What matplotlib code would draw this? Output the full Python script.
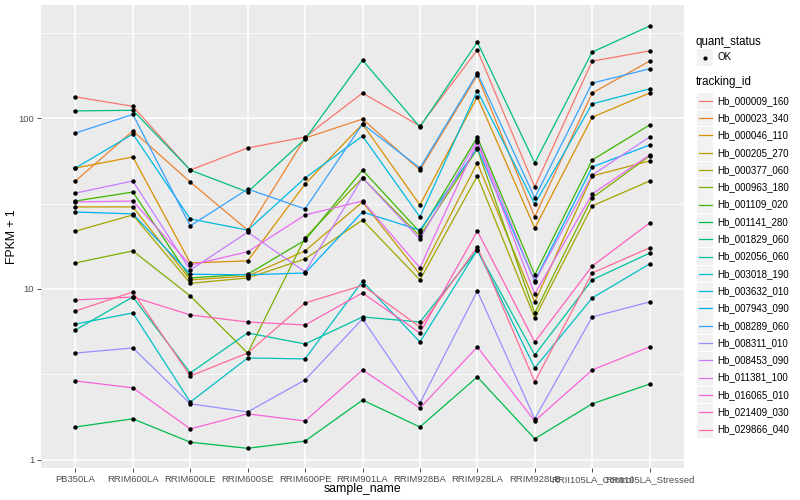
import numpy as np
import matplotlib
matplotlib.use("Agg")
import matplotlib.pyplot as plt
from matplotlib.patches import Rectangle

plt.rcParams['font.family'] = ['Liberation Sans', 'DejaVu Sans']

samples = ["PB350LA", "RRIM600LA", "RRIM600LE", "RRIM600SE", "RRIM600PE",
           "RRIM901LA", "RRIM928BA", "RRIM928LA", "RRIM928LB",
           "RRII105LA_Control", "RRII105LA_Stressed"]

tracking_ids = ["Hb_000009_160", "Hb_000023_340", "Hb_000046_110", "Hb_000205_270",
                "Hb_000377_060", "Hb_000963_180", "Hb_001109_020", "Hb_001141_280",
                "Hb_001829_060", "Hb_002056_060", "Hb_003018_190", "Hb_003632_010",
                "Hb_007943_090", "Hb_008289_060", "Hb_008311_010", "Hb_008453_090",
                "Hb_011381_100", "Hb_016065_010", "Hb_021409_030", "Hb_029866_040"]

# ggplot default hue palette, 20 levels
colors = ["#F8766D", "#EA8331", "#D89000", "#C09B00", "#A3A500", "#7CAE00",
          "#39B600", "#00BB4E", "#00BF7D", "#00C1A3", "#00BFC4", "#00BAE0",
          "#00B0F6", "#35A2FF", "#9590FF", "#C77CFF", "#E76BF3", "#FA62DB",
          "#FF62BC", "#FF6C91"]

# FPKM + 1
fpkm = {
    "Hb_000009_160": [133, 117, 49.6, 66.8, 77.4, 140, 89.8, 250, 39.5, 215, 247],
    "Hb_000023_340": [42.8, 84.0, 42.2, 22.1, 76.4, 98.6, 49.6, 178, 26.4, 140, 215],
    "Hb_000046_110": [51.0, 59.2, 14.2, 14.6, 41.1, 92.2, 31.0, 133, 22.7, 101, 140],
    "Hb_000205_270": [30.2, 30.2, 11.3, 11.9, 16.7, 32.3, 12.2, 54.6, 8.40, 45.8, 56.1],
    "Hb_000377_060": [21.8, 27.1, 10.8, 11.6, 15.0, 25.3, 11.3, 45.8, 6.77, 30.6, 42.8],
    "Hb_000963_180": [14.2, 16.7, 9.10, 4.22, 19.9, 44.6, 20.4, 65.9, 7.24, 34.1, 60.0],
    "Hb_001109_020": [32.7, 36.9, 11.6, 12.2, 19.3, 49.6, 21.5, 77.4, 12.1, 56.8, 91.0],
    "Hb_001141_280": [1.56, 1.74, 1.27, 1.17, 1.29, 2.24, 1.56, 3.06, 1.33, 2.13, 2.78],
    "Hb_001829_060": [110, 111, 49.6, 36.9, 75.4, 218, 88.6, 278, 54.6, 243, 345],
    "Hb_002056_060": [5.76, 8.98, 3.23, 5.53, 4.77, 6.86, 6.41, 16.9, 4.11, 11.3, 16.2],
    "Hb_003018_190": [6.24, 7.24, 2.18, 3.95, 3.90, 11.1, 4.90, 16.9, 3.45, 8.86, 14.0],
    "Hb_003632_010": [51.0, 80.6, 25.7, 22.1, 44.6, 78.5, 26.4, 144, 31.4, 121, 148],
    "Hb_007943_090": [28.2, 27.5, 12.2, 12.1, 12.4, 28.2, 22.1, 66.8, 11.1, 51.7, 69.5],
    "Hb_008289_060": [81.7, 105, 23.4, 38.4, 29.4, 92.2, 51.0, 183, 34.1, 160, 194],
    "Hb_008311_010": [4.22, 4.52, 2.13, 1.91, 2.94, 6.68, 2.15, 9.73, 1.74, 6.86, 8.40],
    "Hb_008453_090": [36.4, 42.8, 12.9, 21.5, 12.6, 44.6, 19.6, 74.3, 11.0, 46.4, 77.4],
    "Hb_011381_100": [32.3, 32.7, 13.8, 16.5, 27.1, 32.7, 13.3, 72.4, 9.35, 35.9, 60.8],
    "Hb_016065_010": [2.90, 2.64, 1.52, 1.86, 1.69, 3.36, 2.01, 4.58, 1.69, 3.36, 4.58],
    "Hb_021409_030": [8.62, 8.98, 7.05, 6.41, 6.16, 9.48, 5.53, 21.8, 4.90, 13.6, 24.3],
    "Hb_029866_040": [7.44, 9.60, 3.10, 4.22, 8.28, 10.5, 5.99, 17.6, 2.86, 12.4, 17.4],
}

W, H = 800, 500
fig = plt.figure(figsize=(8, 5), dpi=100)
ax = fig.add_axes([41 / W, 1 - 468 / H, (684 - 41) / W, (468 - 5) / H])
ax.set_facecolor('#EBEBEB')

x = np.arange(len(samples))
for tid, col in zip(tracking_ids, colors):
    ax.plot(x, fpkm[tid], color=col, lw=0.9, zorder=3)
for tid in tracking_ids:
    ax.plot(x, fpkm[tid], 'o', color='black', ms=3.2, mew=0, zorder=4)

ax.set_yscale('log')
ax.set_ylim(10 ** -0.047, 10 ** 2.661)
ax.set_xlim(-0.6, len(samples) - 0.4)

# grid
for v in [1, 10, 100]:
    ax.axhline(v, color='white', lw=1.1, zorder=1)
for v in [10 ** 0.5, 10 ** 1.5, 10 ** 2.5]:
    ax.axhline(v, color='white', lw=0.55, zorder=1)
for xi in x:
    ax.axvline(xi, color='white', lw=1.1, zorder=1)

for s in ax.spines.values():
    s.set_visible(False)
ax.set_yticks([1, 10, 100])
ax.set_yticklabels(['1', '10', '100'])
ax.set_yticks([], minor=True)
ax.set_xticks(x)
ax.set_xticklabels(samples)
ax.tick_params(length=3, width=0.6, color='#333333', labelcolor='#4D4D4D',
               labelsize=6.8, pad=2)
ax.set_xlabel('sample_name', fontsize=8.8)
ax.set_ylabel('FPKM + 1', fontsize=8.8)
ax.xaxis.set_label_coords(0.5, (468 - 489) / 463)
ax.xaxis.label.set_va('center')
ax.yaxis.set_label_coords((12 - 41) / 643, 0.5)
ax.yaxis.label.set_va('center')

# legends, drawn in pixel space
lax = fig.add_axes([0, 0, 1, 1])
lax.set_xlim(0, W)
lax.set_ylim(H, 0)
lax.axis('off')

lax.text(696, 42, 'quant_status', fontsize=8.3, va='center', ha='left')
lax.add_patch(Rectangle((697, 49), 16, 17, facecolor='#F2F2F2', edgecolor='none'))
lax.plot([705], [57.5], 'o', color='black', ms=3, mew=0)
lax.text(717, 57.5, 'OK', fontsize=7, va='center', ha='left')

lax.text(696, 82, 'tracking_id', fontsize=8.3, va='center', ha='left')
y0, dy = 100.8, 17.3
for i, (tid, col) in enumerate(zip(tracking_ids, colors)):
    yc = y0 + i * dy
    lax.add_patch(Rectangle((697, yc - 8.3), 16, 16.6, facecolor='#F2F2F2',
                            edgecolor='none'))
    lax.plot([698.5, 711.5], [yc, yc], color=col, lw=0.9)
    lax.text(717, yc, tid, fontsize=7, va='center', ha='left')

fig.savefig('out.png', dpi=100)
